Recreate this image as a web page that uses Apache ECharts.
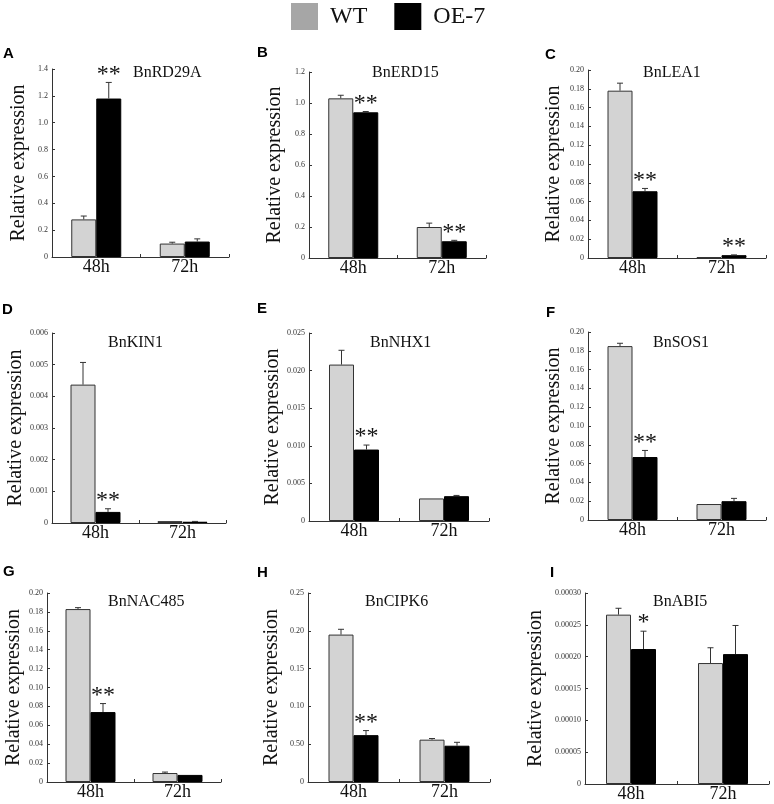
<!DOCTYPE html>
<html>
<head>
<meta charset="utf-8">
<script src="https://cdn.jsdelivr.net/npm/echarts@6/dist/echarts.min.js"></script>
<style>html,body{margin:0;padding:0;background:#fff;}#chart{width:774px;height:804px;}</style>
</head>
<body>
<div id="chart"></div>
<script>
// ---------- DATA ----------
const categories = ['48h', '72h'];
const legendNames = ['WT', 'OE-7'];
const panelLetters = ['A', 'B', 'C', 'D', 'E', 'F', 'G', 'H', 'I'];
const geneNames = ['BnRD29A', 'BnERD15', 'BnLEA1', 'BnKIN1', 'BnNHX1', 'BnSOS1', 'BnNAC485', 'BnCIPK6', 'BnABI5'];
const yAxisName = 'Relative expression';

const wtMean = [[0.28, 0.10], [1.03, 0.20], [0.178, 0.0008], [0.00437, 0.00006], [0.0208, 0.0030], [0.185, 0.017], [0.183, 0.0095], [0.195, 0.056], [0.000266, 0.000190]];
const wtSD   = [[0.025, 0.01], [0.02, 0.025], [0.008, 0], [0.0007, 0], [0.0019, 0], [0.003, 0], [0.0015, 0.001], [0.007, 0.0015], [0.00001, 0.000024]];
const oeMean = [[1.18, 0.115], [0.94, 0.108], [0.071, 0.003], [0.00035, 0.00004], [0.0095, 0.0033], [0.067, 0.020], [0.074, 0.0075], [0.062, 0.048], [0.000212, 0.000204]];
const oeSD   = [[0.12, 0.02], [0.005, 0.006], [0.003, 0.0003], [0.0001, 0.00001], [0.0006, 0.0001], [0.007, 0.003], [0.009, 0], [0.006, 0.0045], [0.000028, 0.000045]];
const significance = [['**', ''], ['**', '**'], ['**', '**'], ['**', ''], ['**', ''], ['**', ''], ['**', ''], ['**', ''], ['*', '']];

const yMax  = [1.4, 1.2, 0.20, 0.006, 0.025, 0.20, 0.20, 0.25, 0.00030];
const yStep = [0.2, 0.2, 0.02, 0.001, 0.005, 0.02, 0.02, 0.05, 0.00005];
const yTickLabels = [
  ['0', '0.2', '0.4', '0.6', '0.8', '1.0', '1.2', '1.4'],
  ['0', '0.2', '0.4', '0.6', '0.8', '1.0', '1.2'],
  ['0', '0.02', '0.04', '0.06', '0.08', '0.10', '0.12', '0.14', '0.16', '0.18', '0.20'],
  ['0', '0.001', '0.002', '0.003', '0.004', '0.005', '0.006'],
  ['0', '0.005', '0.010', '0.015', '0.020', '0.025'],
  ['0', '0.02', '0.04', '0.06', '0.08', '0.10', '0.12', '0.14', '0.16', '0.18', '0.20'],
  ['0', '0.02', '0.04', '0.06', '0.08', '0.10', '0.12', '0.14', '0.16', '0.18', '0.20'],
  ['0', '0.50', '0.10', '0.15', '0.20', '0.25'],
  ['0', '0.00005', '0.00010', '0.00015', '0.00020', '0.00025', '0.00030']
];

// ---------- LAYOUT ----------
const grids = [
  {left: 52, top: 69, width: 177, height: 188},
  {left: 309, top: 72, width: 177, height: 186},
  {left: 588, top: 70, width: 178, height: 188},
  {left: 52, top: 333, width: 174, height: 190},
  {left: 309, top: 333, width: 180, height: 188},
  {left: 588, top: 332, width: 178, height: 188},
  {left: 47, top: 593, width: 174, height: 189},
  {left: 308, top: 593, width: 182, height: 189},
  {left: 585, top: 593, width: 184, height: 191}
];
const geneTitlePos = [[133, 65], [372, 65], [643, 65], [108, 335], [370, 335], [653, 335], [108, 594], [365, 594], [653, 594]];
const letterPos = [[3, 46], [257, 45], [545, 47], [2, 302], [257, 301], [546, 305], [3, 564], [257, 565], [550, 565]];
const nameGaps = [23, 24, 24, 23, 24, 24, 23, 26, 39];

const SERIF = "'Liberation Serif', 'Times New Roman', serif";
const SANS = "'Liberation Sans', Arial, sans-serif";
const BAR_W = 25;

function errRender(params, api) {
  const cat = api.value(0), mean = api.value(1), top = api.value(2), side = api.value(3);
  const b = api.coord([cat, mean]);
  const t = api.coord([cat, top]);
  const x = b[0] + (side === 0 ? -BAR_W / 2 : BAR_W / 2);
  return {
    type: 'group',
    children: [
      {type: 'line', shape: {x1: x, y1: b[1], x2: x, y2: t[1]}, style: {stroke: '#333', lineWidth: 1}},
      {type: 'line', shape: {x1: x - 3, y1: t[1], x2: x + 3, y2: t[1]}, style: {stroke: '#333', lineWidth: 1}}
    ]
  };
}

const option = {
  animation: false,
  backgroundColor: '#fff',
  legend: {
    left: 291, top: 3, padding: 0, icon: 'rect', itemWidth: 27, itemHeight: 27, itemGap: 27,
    textStyle: {fontSize: 24, fontFamily: SERIF, color: '#111', padding: [0, 0, 0, 7]},
    data: [
      {name: legendNames[0], itemStyle: {color: '#a6a6a6', borderWidth: 0}},
      {name: legendNames[1], itemStyle: {color: '#000000', borderWidth: 0}}
    ]
  },
  title: [],
  grid: [], xAxis: [], yAxis: [], series: []
};

for (let i = 0; i < 9; i++) {
  option.grid.push(Object.assign({containLabel: false}, grids[i]));
  option.title.push({text: geneNames[i], left: geneTitlePos[i][0], top: geneTitlePos[i][1], padding: 0,
    textStyle: {fontSize: 16, fontWeight: 'normal', fontFamily: SERIF, color: '#111'}});
  option.title.push({text: panelLetters[i], left: letterPos[i][0], top: letterPos[i][1], padding: 0,
    textStyle: {fontSize: 15, fontWeight: 'bold', fontFamily: SANS, color: '#000'}});
  option.xAxis.push({
    type: 'category', gridIndex: i, data: categories,
    axisLine: {lineStyle: {color: '#333', width: 1}},
    axisTick: {show: true, inside: true, length: 3, lineStyle: {color: '#333'}},
    axisLabel: {fontSize: 18, fontFamily: SERIF, color: '#111', margin: 1}
  });
  const labels = yTickLabels[i], step = yStep[i];
  option.yAxis.push({
    type: 'value', gridIndex: i, min: 0, max: yMax[i], interval: step,
    name: yAxisName, nameLocation: 'middle', nameGap: nameGaps[i],
    nameTextStyle: {fontSize: 20, fontFamily: SERIF, color: '#111'},
    splitLine: {show: false},
    axisLine: {show: true, lineStyle: {color: '#333', width: 1}},
    axisTick: {show: true, inside: true, length: 3, lineStyle: {color: '#333'}},
    axisLabel: {fontSize: 8, fontFamily: SERIF, color: '#333', margin: 4,
      formatter: function (v) { const k = Math.round(v / step); return labels[k] !== undefined ? labels[k] : ''; }}
  });
  option.series.push({
    name: legendNames[0], type: 'bar', xAxisIndex: i, yAxisIndex: i, data: wtMean[i],
    barWidth: BAR_W, barGap: '0%',
    itemStyle: {color: '#d3d3d3', borderColor: '#333', borderWidth: 1}
  });
  option.series.push({
    name: legendNames[1], type: 'bar', xAxisIndex: i, yAxisIndex: i, data: oeMean[i],
    barWidth: BAR_W, barGap: '0%',
    itemStyle: {color: '#000', borderColor: '#000', borderWidth: 1}
  });
  const errData = [];
  for (let c = 0; c < 2; c++) {
    if (wtSD[i][c] > 0) errData.push([c, wtMean[i][c], wtMean[i][c] + wtSD[i][c], 0]);
    if (oeSD[i][c] > 0) errData.push([c, oeMean[i][c], oeMean[i][c] + oeSD[i][c], 1]);
  }
  option.series.push({
    type: 'custom', xAxisIndex: i, yAxisIndex: i, data: errData, z: 5, renderItem: errRender, silent: true
  });
  const sigData = [];
  for (let c = 0; c < 2; c++) {
    if (significance[i][c]) sigData.push([c, oeMean[i][c] + oeSD[i][c], significance[i][c]]);
  }
  option.series.push({
    type: 'custom', xAxisIndex: i, yAxisIndex: i, data: sigData, z: 6, silent: true,
    renderItem: function (params, api) {
      const c = api.value(0), top = api.value(1);
      const t = api.coord([c, top]);
      const txt = sigData[params.dataIndex][2];
      return {
        type: 'text',
        style: {text: txt, x: t[0] + BAR_W / 2, y: t[1] + 4, align: 'center', verticalAlign: 'bottom',
          fontSize: 24, fontFamily: SERIF, fill: '#111'}
      };
    }
  });
}

const chart = echarts.init(document.getElementById('chart'), null, {renderer: 'canvas'});
chart.setOption(option);
</script>
</body>
</html>
